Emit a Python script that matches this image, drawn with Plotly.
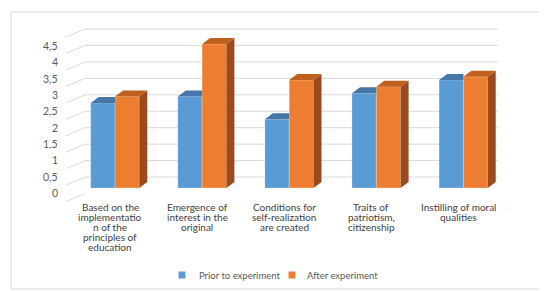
import plotly.graph_objects as go

# ---------------- data ----------------
categories = [
    "Based on the<br>implementatio<br>n of the<br>principles of<br>education",
    "Emergence of<br>interest in the<br>original",
    "Conditions for<br>self-realization<br>are created",
    "Traits of<br>patriotism,<br>citizenship",
    "Instilling of moral<br>qualities",
]
prior = [2.6, 2.8, 2.1, 2.9, 3.3]
after = [2.8, 4.4, 3.3, 3.1, 3.4]
series_names = ["Prior to experiment", "After experiment"]
tick_values = [0, 0.5, 1, 1.5, 2, 2.5, 3, 3.5, 4, 4.5]
tick_labels = ["0", "0,5", "1", "1,5", "2", "2,5", "3", "3,5", "4", "4,5"]
grid_values = [0.5, 1, 1.5, 2, 2.5, 3, 3.5, 4, 4.5, 5]

# ---------------- layout helpers (pixel geometry of the window) ----------------
W, H = 547, 291
OFF = 8                          # default page body margin
X0_PX, CAT_PX = 115.0, 87.1      # pixel x of category 0 centre, pixels per category
BASE_PX, UNIT_PX = 188.0, 32.7   # pixel y of value 0 (front plane), pixels per unit


def xd(px):
    return (px - X0_PX) / CAT_PX


def yd(py):
    return (BASE_PX - py) / UNIT_PX


def px_paper(px):
    return (px - OFF) / (W - OFF)


def py_paper(py):
    return 1 - (py - OFF) / (H - OFF)


def back_py(v):
    # pixel y of a back-wall gridline for value v
    return 193.5 - 32.9 * v


def label_py(v):
    # pixel y of a tick label for value v
    return 193.0 - 32.7 * v


BW = 24.3 / CAT_PX          # bar width (data units)
DX = 8.0 / CAT_PX           # depth offset x
DY = 6.0 / UNIT_PX          # depth offset y

BLUE, BLUE_TOP = "#5B9BD5", "#4677A8"
ORANGE, ORANGE_TOP, ORANGE_SIDE = "#ED7D31", "#C0601F", "#9A4A1C"
GRID = "#D9D9D9"
TXT = "#595959"
FONT = "Lato"

fig = go.Figure()

idx = list(range(len(categories)))

# front faces
fig.add_trace(go.Bar(x=idx, y=prior, width=BW, offset=-BW, base=0,
                     marker=dict(color=BLUE, line=dict(color="rgba(255,255,255,0.35)", width=0.6)),
                     showlegend=False, hoverinfo="skip"))
fig.add_trace(go.Bar(x=idx, y=after, width=BW, offset=0, base=0,
                     marker=dict(color=ORANGE, line=dict(color="rgba(255,230,200,0.6)", width=0.6)),
                     showlegend=False, hoverinfo="skip"))


def poly_trace(xs, ys, color):
    return go.Scatter(x=xs, y=ys, mode="lines", fill="toself", fillcolor=color,
                      line=dict(width=0, color=color), hoverinfo="skip", showlegend=False)


# blue tops (clipped where the orange front face hides them)
bx, by = [], []
for i, (p, a) in zip(idx, zip(prior, after)):
    l, r = i - BW, i
    if a >= p:
        pts = [(l, p), (r, p), (r, p + DY), (l + DX, p + DY)]
    else:
        pts = [(l, p), (r, p), (r + DX, p + DY), (l + DX, p + DY)]
    for x, y in pts:
        bx.append(x); by.append(y)
    bx.append(None); by.append(None)
fig.add_trace(poly_trace(bx, by, BLUE_TOP))

# orange tops and sides
tx, ty, sx, sy = [], [], [], []
for i, a in zip(idx, after):
    l, r = i, i + BW
    for x, y in [(l, a), (r, a), (r + DX, a + DY), (l + DX, a + DY)]:
        tx.append(x); ty.append(y)
    tx.append(None); ty.append(None)
    for x, y in [(r, 0), (r + DX, DY), (r + DX, a + DY), (r, a)]:
        sx.append(x); sy.append(y)
    sx.append(None); sy.append(None)
fig.add_trace(poly_trace(sx, sy, ORANGE_SIDE))
fig.add_trace(poly_trace(tx, ty, ORANGE_TOP))

shapes = []
# chart border
shapes.append(dict(type="rect", xref="paper", yref="paper",
                   x0=px_paper(11), x1=1.02, y0=py_paper(289), y1=py_paper(12),
                   line=dict(color=GRID, width=1), layer="below"))
# back wall gridlines + side wall diagonals
for v in grid_values:
    yb = back_py(v)
    shapes.append(dict(type="line", xref="x", yref="y", x0=xd(85), x1=xd(498),
                       y0=yd(yb), y1=yd(yb), line=dict(color=GRID, width=1), layer="below"))
for v in [0] + grid_values:
    yb = back_py(v)
    shapes.append(dict(type="line", xref="x", yref="y", x0=xd(66), x1=xd(85),
                       y0=yd(yb + 8), y1=yd(yb), line=dict(color=GRID, width=1), layer="below"))

annotations = []
for v, t in zip(tick_values, tick_labels):
    annotations.append(dict(x=xd(60), y=yd(label_py(v)), xref="x", yref="y",
                            text=t, showarrow=False, xanchor="right", yanchor="middle",
                            font=dict(family=FONT, size=10.5, color=TXT)))
for i, c in zip(idx, categories):
    for k, line in enumerate(c.split("<br>")):
        annotations.append(dict(x=i + xd(X0_PX - 5), y=yd(206.7 + 10 * k), xref="x", yref="y",
                                text=line, showarrow=False, xanchor="center", yanchor="middle",
                                font=dict(family=FONT, size=10, color="#404040")))

# legend (manual, to match the compact spacing of the reference)
legend_items = [(series_names[0], BLUE, 182, 197), (series_names[1], ORANGE, 292, 305)]
for name, col, sq_x, txt_x in legend_items:
    shapes.append(dict(type="rect", xref="paper", yref="paper",
                       x0=px_paper(sq_x - 3.5), x1=px_paper(sq_x + 3.5),
                       y0=py_paper(275 + 3.5), y1=py_paper(275 - 3.5),
                       fillcolor=col, line=dict(width=0)))
    annotations.append(dict(x=px_paper(txt_x), y=py_paper(275), xref="paper", yref="paper",
                            text=name, showarrow=False, xanchor="left", yanchor="middle",
                            font=dict(family=FONT, size=9.5, color=TXT)))

fig.update_layout(
    width=W - OFF, height=H - OFF,
    margin=dict(l=0, r=0, t=0, b=0),
    paper_bgcolor="white", plot_bgcolor="white",
    barmode="overlay",
    xaxis=dict(range=[xd(OFF), xd(W)], visible=False, fixedrange=True),
    yaxis=dict(range=[yd(H), yd(OFF)], visible=False, fixedrange=True),
    shapes=shapes,
    annotations=annotations,
    showlegend=False,
)

fig.write_html("out.html")
